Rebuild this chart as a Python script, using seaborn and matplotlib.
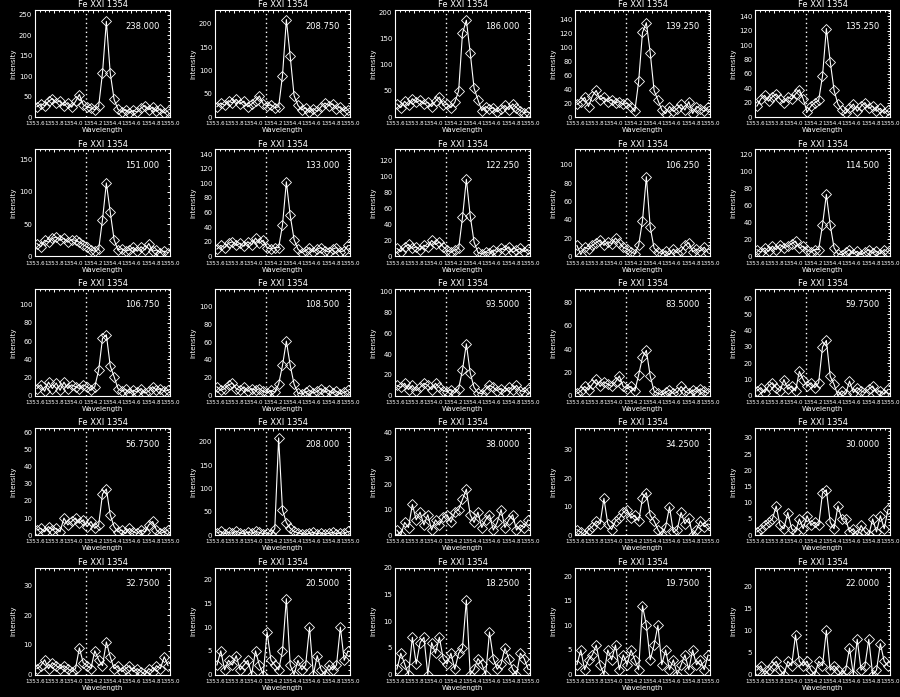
import numpy as np
import matplotlib
matplotlib.use("Agg")
import matplotlib.pyplot as plt
from matplotlib.ticker import MultipleLocator, AutoMinorLocator, FormatStrFormatter
import seaborn as sns

# -- Data --------------------------------------------------------
WAVELENGTH = [1353.62, 1353.66, 1353.70, 1353.74, 1353.78, 1353.82, 1353.86,
              1353.90, 1353.94, 1353.98, 1354.02, 1354.06, 1354.10, 1354.14,
              1354.18, 1354.22, 1354.26, 1354.30, 1354.34, 1354.38, 1354.42,
              1354.46, 1354.50, 1354.54, 1354.58, 1354.62, 1354.66, 1354.70,
              1354.74, 1354.78, 1354.82, 1354.86, 1354.90, 1354.94, 1354.98]
REST_WAVE = 1354.13
LINE_NAME = "Fe XXI 1354"

PANEL_VALUE = [238.000, 208.750, 186.000, 139.250, 135.250,
               151.000, 133.000, 122.250, 106.250, 114.500,
               106.750, 108.500, 93.5000, 83.5000, 59.7500,
               56.7500, 208.000, 38.0000, 34.2500, 30.0000,
               32.7500, 20.5000, 18.2500, 19.7500, 22.0000]

Y_STEP = [50, 50, 50, 20, 20,
          50, 20, 20, 20, 20,
          20, 20, 20, 20, 10,
          10, 50, 10, 10, 5,
          10, 5, 5, 5, 5]

spec_01 = [25, 32, 28, 38, 45, 35, 40, 28, 35, 24, 38, 55, 30, 25, 22, 18, 26, 108, 234, 108, 43, 19, 12, 18, 10, 16, 12, 22, 28, 18, 24, 14, 20, 10, 15]
spec_02 = [22, 30, 25, 35, 30, 38, 28, 34, 22, 28, 35, 45, 28, 24, 26, 20, 22, 89, 209, 130, 46, 25, 15, 20, 10, 18, 12, 22, 30, 24, 28, 18, 22, 12, 16]
spec_03 = [25, 18, 30, 22, 35, 28, 32, 25, 28, 20, 30, 38, 22, 25, 18, 28, 50, 160, 185, 123, 55, 33, 12, 20, 15, 18, 10, 16, 22, 14, 25, 18, 12, 8, 10]
spec_04 = [18, 22, 28, 15, 30, 38, 25, 28, 22, 25, 20, 22, 18, 20, 15, 8, 51, 121, 135, 92, 38, 24, 10, 5, 15, 8, 12, 18, 10, 22, 5, 15, 12, 8, 14]
spec_05 = [15, 25, 30, 22, 28, 32, 25, 20, 28, 25, 32, 38, 25, 7, 15, 20, 23, 57, 123, 77, 37, 18, 10, 5, 12, 18, 8, 15, 20, 12, 15, 8, 12, 5, 10]
spec_06 = [20, 15, 25, 22, 28, 30, 25, 28, 22, 26, 25, 22, 18, 15, 10, 8, 11, 57, 114, 69, 26, 10, 12, 8, 10, 14, 8, 15, 10, 20, 8, 10, 6, 8, 6]
spec_07 = [10, 15, 12, 18, 20, 15, 18, 14, 20, 16, 25, 18, 22, 12, 10, 12, 12, 43, 102, 56, 23, 10, 5, 8, 12, 6, 10, 12, 8, 6, 10, 12, 6, 8, 15]
spec_08 = [10, 6, 12, 15, 10, 12, 8, 14, 12, 20, 15, 18, 12, 8, 5, 8, 10, 49, 97, 51, 18, 5, 3, 6, 4, 8, 6, 10, 8, 12, 5, 8, 10, 6, 9]
spec_09 = [12, 2, 10, 8, 12, 15, 18, 12, 16, 14, 20, 15, 10, 8, 5, 3, 12, 39, 87, 32, 9, 5, 3, 6, 2, 8, 4, 6, 12, 15, 5, 8, 6, 10, 4]
spec_10 = [8, 5, 10, 6, 12, 8, 14, 10, 12, 15, 18, 10, 12, 8, 5, 8, 8, 37, 73, 37, 10, 3, 2, 5, 8, 3, 6, 2, 5, 8, 4, 6, 3, 8, 5]
spec_11 = [8, 12, 5, 15, 8, 14, 6, 15, 8, 12, 10, 8, 12, 10, 6, 10, 28, 63, 67, 33, 21, 8, 5, 7, 3, 6, 4, 8, 3, 5, 10, 6, 8, 5, 6]
spec_12 = [10, 6, 8, 12, 14, 8, 6, 10, 5, 8, 6, 8, 5, 3, 6, 4, 13, 34, 61, 34, 13, 3, 2, 4, 6, 3, 5, 8, 4, 6, 3, 5, 2, 4, 6]
spec_13 = [10, 8, 12, 6, 10, 5, 8, 12, 10, 6, 12, 8, 5, 4, 6, 3, 7, 25, 50, 22, 8, 3, 2, 6, 10, 8, 5, 7, 4, 8, 6, 10, 5, 4, 7]
spec_14 = [2, 4, 8, 5, 10, 14, 8, 12, 10, 8, 12, 17, 8, 6, 8, 4, 18, 33, 39, 17, 4, 2, 1, 3, 5, 2, 3, 8, 4, 2, 5, 3, 6, 4, 2]
spec_15 = [3, 5, 2, 6, 8, 5, 3, 10, 4, 6, 3, 15, 10, 6, 8, 5, 8, 30, 34, 12, 7, 0, 3, 1, 9, 2, 5, 3, 2, 4, 6, 2, 3, 1, 4]
spec_16 = [3, 4, 2, 5, 3, 4, 2, 10, 6, 8, 10, 7, 9, 5, 8, 4, 6, 24, 27, 12, 5, 2, 3, 1, 4, 2, 1, 3, 2, 6, 8, 3, 1, 2, 3]
spec_17 = [5, 8, 3, 6, 4, 9, 5, 3, 7, 4, 8, 6, 3, 5, 2, 14, 208, 54, 27, 15, 8, 5, 3, 2, 4, 6, 3, 5, 2, 4, 6, 3, 5, 4, 8]
spec_18 = [2, 0, 5, 3, 12, 6, 9, 4, 8, 2, 6, 4, 7, 8, 5, 9, 10, 14, 18, 8, 5, 9, 3, 6, 8, 2, 5, 10, 3, 6, 8, 2, 4, 3, 6]
spec_19 = [2, 1, 0, 2, 3, 5, 4, 13, 4, 2, 5, 6, 8, 9, 6, 7, 5, 13, 15, 7, 5, 2, 0, 3, 10, 1, 2, 8, 4, 6, 0, 2, 5, 3, 4]
spec_20 = [1, 2, 3, 4, 5, 9, 3, 2, 7, 2, 1, 5, 2, 6, 3, 4, 3, 13, 14, 4, 2, 9, 5, 5, 1, 2, 0, 3, 1, 0, 5, 1, 6, 2, 8]
spec_21 = [2, 3, 5, 2, 4, 3, 2, 3, 2, 1, 2, 9, 4, 3, 2, 8, 5, 3, 11, 6, 2, 3, 1, 2, 3, 1, 2, 1, 0, 2, 1, 3, 2, 6, 3]
spec_22 = [2, 5, 1, 3, 2, 4, 1, 2, 3, 0, 5, 2, 0, 9, 3, 2, 1, 5, 16, 2, 0, 3, 1, 2, 10, 0, 4, 1, 0, 2, 1, 2, 10, 3, 5]
spec_23 = [1, 4, 2, 0, 7, 2, 6, 7, 0, 6, 4, 7, 3, 2, 4, 1, 4, 5, 14, 0, 1, 3, 2, 0, 8, 3, 1, 2, 5, 3, 1, 0, 4, 3, 1]
spec_24 = [2, 5, 1, 3, 4, 6, 2, 0, 5, 3, 6, 1, 4, 2, 5, 3, 1, 14, 10, 3, 6, 10, 2, 5, 1, 3, 0, 2, 4, 1, 5, 2, 3, 1, 4]
spec_25 = [1, 2, 0, 1, 2, 3, 1, 0, 3, 2, 9, 3, 2, 3, 1, 0, 3, 2, 10, 1, 2, 1, 0, 1, 6, 0, 8, 1, 2, 8, 0, 1, 7, 3, 2]

spectra = [spec_01, spec_02, spec_03, spec_04, spec_05,
           spec_06, spec_07, spec_08, spec_09, spec_10,
           spec_11, spec_12, spec_13, spec_14, spec_15,
           spec_16, spec_17, spec_18, spec_19, spec_20,
           spec_21, spec_22, spec_23, spec_24, spec_25]

# -- Style: IDL-like white on black -----------------------------
sns.set_theme(style="dark", rc={
    "figure.facecolor": "black", "axes.facecolor": "black",
    "axes.edgecolor": "white", "axes.labelcolor": "white",
    "text.color": "white", "xtick.color": "white", "ytick.color": "white",
    "axes.grid": False, "axes.linewidth": 0.8,
})
plt.rcParams["font.family"] = ["DejaVu Sans"]

W, H = 900, 697
fig = plt.figure(figsize=(W / 100, H / 100), dpi=100)

for n, spec in enumerate(spectra):
    i, j = n % 5, n // 5
    left = 35 + 180 * i
    top = 10 + 139.4 * j
    ax = fig.add_axes([left / W, 1 - (top + 107) / H, 135 / W, 107 / H])
    ax.set_facecolor("black")

    sns.lineplot(x=WAVELENGTH, y=spec, ax=ax, color="white", linewidth=0.8,
                 marker="D", markersize=5, markerfacecolor="none",
                 markeredgecolor="white", markeredgewidth=0.6,
                 estimator=None, sort=False)
    ax.axvline(REST_WAVE, color="white", linewidth=1.0, linestyle=(0, (1, 2.2)))

    ax.set_xlim(1353.6, 1355.0)
    ax.set_ylim(0, 1.1 * PANEL_VALUE[n])
    ax.xaxis.set_major_locator(MultipleLocator(0.2))
    ax.xaxis.set_minor_locator(AutoMinorLocator(4))
    ax.xaxis.set_major_formatter(FormatStrFormatter("%.1f"))
    ax.yaxis.set_major_locator(MultipleLocator(Y_STEP[n]))
    ax.yaxis.set_minor_locator(AutoMinorLocator(5))
    ax.yaxis.set_major_formatter(FormatStrFormatter("%d"))
    ax.tick_params(which="both", direction="in", top=True, right=True,
                   colors="white", width=0.7)
    ax.tick_params(which="major", length=2.5)
    ax.tick_params(which="minor", length=1.2)
    ax.tick_params(axis="x", labelsize=4.1, pad=3)
    ax.tick_params(axis="y", labelsize=5, pad=2)
    for s in ax.spines.values():
        s.set_color("white")
        s.set_linewidth(0.8)

    ax.set_title(LINE_NAME, fontsize=6, color="white", pad=2)
    ax.set_ylabel("Intensity", fontsize=5, color="white")
    ax.set_xlabel("Wavelength", fontsize=5, color="white")
    ax.yaxis.set_label_coords(-0.14, 0.5)
    ax.xaxis.set_label_coords(0.5, -0.095)
    ax.text(0.667, 0.85, f"{PANEL_VALUE[n]:#.6g}", transform=ax.transAxes,
            fontsize=6, color="white", ha="left", va="center")

fig.savefig("out.png", dpi=100, facecolor="black")
